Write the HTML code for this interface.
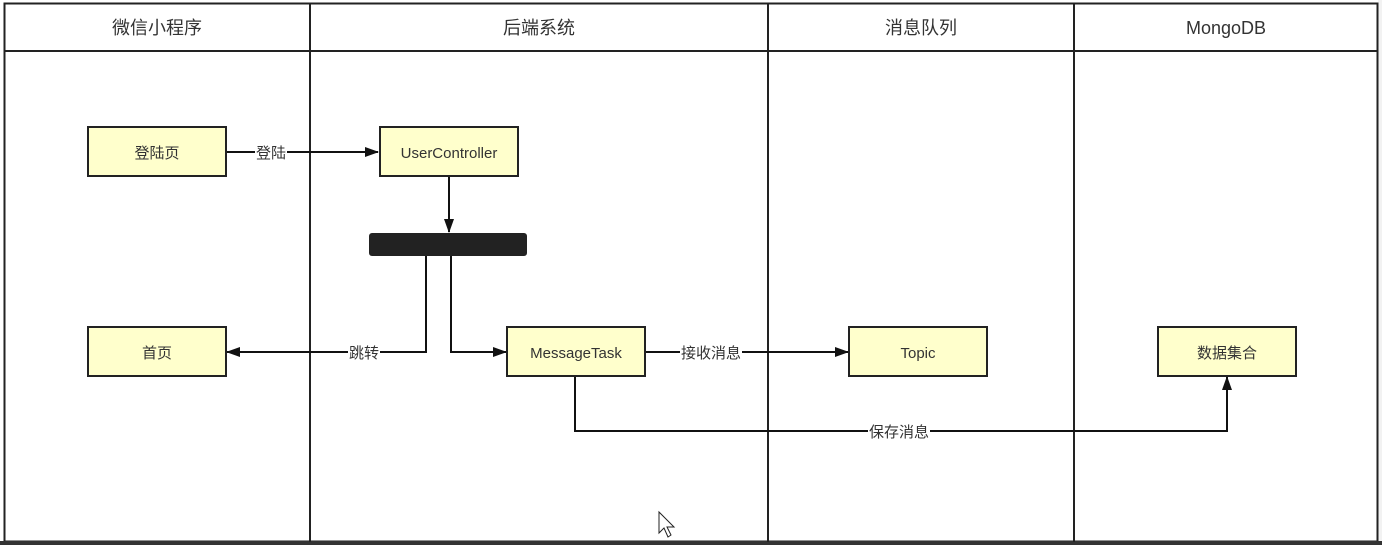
<!DOCTYPE html>
<html><head><meta charset="utf-8"><style>
html,body{margin:0;padding:0;background:#fff;width:1382px;height:545px;overflow:hidden}
svg{display:block}
text{font-family:"Liberation Sans","Noto Sans CJK SC",sans-serif;fill:#333}
</style></head><body>
<svg width="1382" height="545" viewBox="0 0 1382 545" xmlns="http://www.w3.org/2000/svg">
<defs><marker id="a" markerWidth="14" markerHeight="10" refX="13" refY="5" orient="auto" markerUnits="userSpaceOnUse"><path d="M0,0 L14,5 L0,10 Z" fill="#111"/></marker></defs>
<rect x="0" y="0" width="1382" height="545" fill="#fff"/>
<rect x="1378" y="0" width="4" height="545" fill="#f2f2f2"/>
<rect x="4.5" y="3.5" width="1373" height="538" fill="#fff" stroke="#222" stroke-width="2"/>
<rect x="0" y="541" width="1382" height="4" fill="#333"/>
<line x1="4" y1="51" x2="1378" y2="51" stroke="#222" stroke-width="2"/>
<line x1="310" y1="3" x2="310" y2="542" stroke="#222" stroke-width="2"/>
<line x1="768" y1="3" x2="768" y2="542" stroke="#222" stroke-width="2"/>
<line x1="1074" y1="3" x2="1074" y2="542" stroke="#222" stroke-width="2"/>
<g font-size="18" text-anchor="middle">
<text x="157" y="34">微信小程序</text>
<text x="539" y="34">后端系统</text>
<text x="921" y="34">消息队列</text>
<text x="1226" y="34">MongoDB</text>
</g>
<g fill="none" stroke="#111" stroke-width="2">
<path d="M226 152 H378" marker-end="url(#a)"/>
<path d="M449 176 V232" marker-end="url(#a)"/>
<path d="M426 256 V352 H227" marker-end="url(#a)"/>
<path d="M451 256 V352 H506" marker-end="url(#a)"/>
<path d="M645 352 H848" marker-end="url(#a)"/>
<path d="M575 376 V431 H1227 V377" marker-end="url(#a)"/>
</g>
<g font-size="15" text-anchor="middle">
<rect x="255" y="142" width="32" height="20" fill="#fff"/><text x="271" y="158">登陆</text>
<rect x="348" y="342" width="32" height="20" fill="#fff"/><text x="364" y="358">跳转</text>
<rect x="680" y="342" width="62" height="20" fill="#fff"/><text x="711" y="358">接收消息</text>
<rect x="868" y="421" width="62" height="20" fill="#fff"/><text x="899" y="437">保存消息</text>
</g>
<rect x="369" y="233" width="158" height="23" rx="3" fill="#222"/>
<g fill="#ffffcc" stroke="#222" stroke-width="2">
<rect x="88" y="127" width="138" height="49"/>
<rect x="380" y="127" width="138" height="49"/>
<rect x="88" y="327" width="138" height="49"/>
<rect x="507" y="327" width="138" height="49"/>
<rect x="849" y="327" width="138" height="49"/>
<rect x="1158" y="327" width="138" height="49"/>
</g>
<g font-size="15" text-anchor="middle">
<text x="157" y="158">登陆页</text>
<text x="449" y="158">UserController</text>
<text x="157" y="358">首页</text>
<text x="576" y="358">MessageTask</text>
<text x="918" y="358">Topic</text>
<text x="1227" y="358">数据集合</text>
</g>
<path d="M659 512 L659 533 L664 528 L668 537 L671 535 L667 527 L674 527 Z" fill="#fff" stroke="#222" stroke-width="1"/>
</svg>
</body></html>
